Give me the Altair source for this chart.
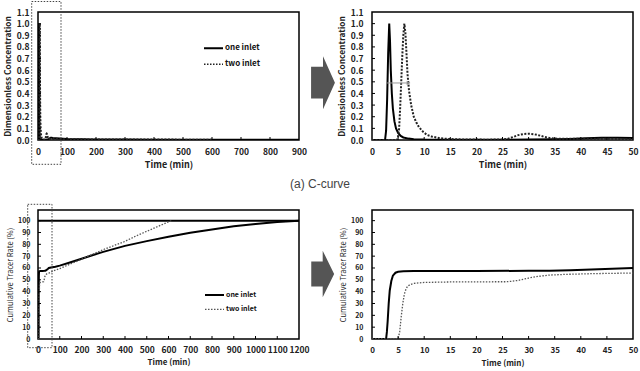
import altair as alt
import pandas as pd

FONT = "Noto Sans CJK KR"
SERIES = ["one inlet", "two inlet"]

# C-curve: dimensionless concentration against time (min)
c1_time = [0, 2.5, 2.7, 2.9, 3.1, 3.3, 3.45, 3.6, 3.8, 4.0, 4.3, 4.6, 5.0, 5.5, 6.0, 7.0, 8.0, 10, 15, 20,
           25, 30, 35, 38, 41, 44, 47, 50, 100, 200, 300, 400, 500, 600, 700, 800, 900]
c1_conc = [0, 0, 0.08, 0.35, 0.75, 1.0, 0.85, 0.6, 0.4, 0.27, 0.16, 0.1, 0.06, 0.035, 0.022, 0.012, 0.007, 0.004, 0.002, 0.002,
           0.003, 0.004, 0.006, 0.009, 0.014, 0.019, 0.02, 0.017, 0.008, 0.005, 0.004, 0.003, 0.003, 0.002, 0.002, 0.002, 0.002]
c2_time = [0, 4.8, 5.0, 5.2, 5.4, 5.6, 5.8, 6.0, 6.2, 6.4, 6.6, 6.8, 7.1, 7.5, 8.0, 8.5, 9.0, 9.8, 10.5, 11.4,
           13, 15, 18, 22, 25, 26, 27, 28, 29, 30, 31, 32, 33, 34, 35, 40, 45, 50, 100, 200, 300, 400, 500, 600]
c2_conc = [0, 0, 0.03, 0.1, 0.28, 0.5, 0.72, 0.9, 1.0, 0.92, 0.75, 0.57, 0.42, 0.3, 0.2, 0.15, 0.11, 0.07, 0.045, 0.03,
           0.015, 0.008, 0.004, 0.003, 0.004, 0.01, 0.025, 0.042, 0.051, 0.054, 0.05, 0.04, 0.027, 0.017, 0.012, 0.01, 0.01, 0.009,
           0.006, 0.005, 0.004, 0.004, 0.003, 0.002]

# F-curve: cumulative tracer rate (%) against time (min)
f1_time = [0, 2.7, 2.85, 3.0, 3.2, 3.4, 3.7, 4.0, 4.5, 5, 6, 8, 10, 20, 30, 34, 38, 42, 46, 50,
           60, 80, 100, 150, 200, 250, 300, 400, 500, 600, 700, 800, 900, 1000, 1100, 1200]
f1_rate = [0, 0, 6, 15, 30, 41, 49, 53.5, 56, 56.8, 57.2, 57.4, 57.5, 57.5, 57.6, 57.7, 58.1, 58.7, 59.3, 60,
           60.4, 61, 62, 64.8, 67.8, 70.8, 73.6, 78.7, 82.7, 86.4, 89.8, 92.6, 95.2, 97.2, 98.9, 100]
f2_time = [0, 5.0, 5.3, 5.6, 5.9, 6.2, 6.5, 6.8, 7.3, 8, 10, 15, 20, 26, 28, 30, 32, 34, 37, 42,
           46, 50, 60, 70, 100, 150, 200, 230, 250, 300, 350, 400, 450, 500, 550, 600, 615]
f2_rate = [0, 0, 6, 19, 30, 38, 42, 44.5, 46, 47, 47.8, 48.2, 48.3, 48.4, 49.5, 51.5, 53, 54, 54.6, 55.2,
           55.5, 55.7, 56.5, 57.5, 59.5, 63.5, 67.3, 70, 71.5, 75.5, 79, 82.5, 87, 91, 95, 99, 100]

full_time_c = [0, 100, 200, 300, 400, 500, 600, 700, 800, 900]
full_time_f = [0, 100, 200, 300, 400, 500, 600, 700, 800, 900, 1000, 1100, 1200]
zoom_time = [0, 5, 10, 15, 20, 25, 30, 35, 40, 45, 50]
conc_ticks = [0, 0.1, 0.2, 0.3, 0.4, 0.5, 0.6, 0.7, 0.8, 0.9, 1.0, 1.1]
rate_ticks = [0, 10, 20, 30, 40, 50, 60, 70, 80, 90, 100]
full_rate = [100]
spread_marker = {"time": [2.9], "time2": [7.0], "value": [0.49]}

c1 = pd.DataFrame({"time": c1_time, "value": c1_conc})
c2 = pd.DataFrame({"time": c2_time, "value": c2_conc})
f1 = pd.DataFrame({"time": f1_time, "value": f1_rate})
f2 = pd.DataFrame({"time": f2_time, "value": f2_rate})

W1, W2, H1, H2 = 261, 261, 128, 129
ONE = pd.DataFrame({"k": [0]})


def encodings(xdom, xvals, ydom, yvals, yfmt, ytitle, st):
    x = alt.X("time:Q", scale=alt.Scale(domain=xdom, nice=False, zero=False),
              axis=alt.Axis(values=xvals, tickCount=len(xvals), format="d", title="Time (min)",
                            ticks=False, domain=False, grid=False,
                            labelFont=FONT, labelFontWeight="bold", labelFontSize=st["xl"], labelColor="#222",
                            labelPadding=st["xlp"], labelFlush=False, labelOverlap=False,
                            titleFont=FONT, titleFontWeight="bold", titleFontSize=st["xt"], titleColor="#222",
                            titlePadding=st["xtp"]))
    y = alt.Y("value:Q", scale=alt.Scale(domain=ydom, nice=False, zero=False),
              axis=alt.Axis(values=yvals, tickCount=len(yvals), format=yfmt, title=ytitle,
                            ticks=False, domain=False, grid=False,
                            labelFont=FONT, labelFontWeight="bold", labelFontSize=st["yl"], labelColor="#222",
                            labelPadding=st["ylp"], labelFlush=False, labelOverlap=False,
                            titleFont=FONT, titleFontWeight=st["ytw"], titleFontSize=st["yt"], titleColor="#222",
                            titlePadding=st["ytp"]))
    return x, y


def inward_ticks(x, y, xvals, yvals, H):
    xt = alt.Chart(pd.DataFrame({"time": xvals[1:-1]})).mark_rule(color="black", strokeWidth=1).encode(
        x=x, y=alt.value(H), y2=alt.value(H - 3))
    yt = alt.Chart(pd.DataFrame({"value": yvals[1:-1] if yvals[-1] == conc_ticks[-1] else yvals[1:]})).mark_rule(
        color="black", strokeWidth=1).encode(y=y, x=alt.value(0), x2=alt.value(3))
    return [xt, yt]


def curves(x, y, d1, d2, dotted_color, dotted_width, dash):
    l1 = alt.Chart(d1).mark_line(color="black", strokeWidth=2, clip=True).encode(x=x, y=y, order="time:Q")
    l2 = alt.Chart(d2).mark_line(color=dotted_color, strokeWidth=dotted_width, strokeDash=dash, clip=True).encode(
        x=x, y=y, order="time:Q")
    return [l1, l2]


def legend(lx, ly, gap, dotted_color, dotted_width, dash, size):
    layers = []
    for i, name in enumerate(SERIES):
        yy = ly + i * gap
        rule = alt.Chart(ONE).mark_rule(
            color="black" if i == 0 else dotted_color, strokeWidth=2 if i == 0 else dotted_width,
            strokeDash=[1, 0] if i == 0 else dash).encode(x=alt.value(lx), x2=alt.value(lx + 19), y=alt.value(yy))
        txt = alt.Chart(ONE).mark_text(text=name, align="left", baseline="middle", font=FONT, fontWeight="bold",
                                       fontSize=size, color="#111").encode(x=alt.value(lx + 21), y=alt.value(yy))
        layers += [rule, txt]
    return layers


def zoom_box(x0, x1, y0, y1):
    return alt.Chart(ONE).mark_rect(fillOpacity=0, stroke="#444", strokeWidth=1, strokeDash=[1.5, 1.5]).encode(
        x=alt.value(x0), x2=alt.value(x1), y=alt.value(y0), y2=alt.value(y1))


def big_arrow(cx, cy, body, half_w, size):
    path = (f"M {-half_w} {-body} L 0 {-body} L 0 -1 L {half_w} 0 L 0 1 L 0 {body} L {-half_w} {body} Z")
    return alt.Chart(ONE).mark_point(shape=path, filled=True, fill="#555", fillOpacity=1, strokeWidth=0,
                                     size=size).encode(x=alt.value(cx), y=alt.value(cy))


top_st = dict(xl=8.5, xlp=7, xt=9, xtp=5, yl=8.5, ylp=9, yt=8.4, ytw="bold", ytp=4)
bl_st = dict(xl=8.5, xlp=6, xt=8, xtp=5, yl=7, ylp=8, yt=7.5, ytw="normal", ytp=3)
br_st = dict(xl=8, xlp=7, xt=8, xtp=5, yl=7, ylp=9, yt=7.5, ytw="normal", ytp=3)

# --- top left: C-curve, full time range
x, y = encodings([0, 900], full_time_c, [0, 1.1], conc_ticks, ".1f", "Dimensionless Concentration", top_st)
anchor = alt.Chart(ONE).mark_rect(opacity=0).encode(
    x=alt.value(-37), x2=alt.value(-36), y=alt.value(-11), y2=alt.value(-10))
caption = alt.Chart(ONE).mark_text(text="(a)  C-curve", font="Liberation Sans", fontSize=12, color="#444",
                                   align="center", baseline="middle").encode(x=alt.value(282), y=alt.value(172))
tl = alt.layer(
    anchor,
    *curves(x, y, c1, c2, "#222", 2, [2, 1.5]),
    *inward_ticks(x, y, full_time_c, conc_ticks, H1),
    *legend(166, 36.3, 16, "#222", 1.5, [1.5, 1.5], 8),
    zoom_box(-6.3, 23, -10.5, 152.3),
    big_arrow(285, 70.7, 0.6, 0.45, 2809),
    caption,
).properties(width=W1, height=H1)

# --- top right: C-curve, first 50 minutes
x, y = encodings([0, 50], zoom_time, [0, 1.1], conc_ticks, ".1f", "Dimensionless Concentration", top_st)
spread = alt.Chart(pd.DataFrame(spread_marker)).mark_rule(color="#999", strokeWidth=1).encode(
    x=x, x2="time2:Q", y=y)
spread_head = alt.Chart(pd.DataFrame(spread_marker)).mark_point(
    shape="triangle-right", filled=True, color="#888", size=18, opacity=1).encode(x="time2:Q", y=y)
tr = alt.layer(
    *curves(x, y, c1[c1.time <= 50], c2[c2.time <= 50], "#222", 2, [2, 1.5]),
    *inward_ticks(x, y, zoom_time, conc_ticks, H1),
    spread, spread_head,
).properties(width=W2, height=H1)

# --- bottom left: F-curve, full time range
x, y = encodings([0, 1200], full_time_f, [0, 109], rate_ticks, "d", "Cumulative Tracer Rate (%)", bl_st)
full_line = alt.Chart(pd.DataFrame({"value": full_rate})).mark_rule(color="black", strokeWidth=2).encode(
    y=y, x=alt.value(0), x2=alt.value(W1))
bl = alt.layer(
    full_line,
    *curves(x, y, f1, f2, "#555", 1.3, [1.5, 1.5]),
    *inward_ticks(x, y, full_time_f, rate_ticks, H2),
    *legend(167, 85, 14.3, "#555", 1.3, [1.5, 1.5], 7),
    zoom_box(-10.3, 14, -5.7, 137.7),
    big_arrow(284.7, 64, 0.535, 0.49, 2181),
).properties(width=W1, height=H2)

# --- bottom right: F-curve, first 50 minutes
x, y = encodings([0, 50], zoom_time, [0, 109], rate_ticks, "d", "Cumulative Tracer Rate (%)", br_st)
br = alt.layer(
    *curves(x, y, f1[f1.time <= 50], f2[f2.time <= 50], "#555", 1.3, [1.5, 1.5]),
    *inward_ticks(x, y, zoom_time, rate_ticks, H2),
).properties(width=W2, height=H2)

chart = alt.concat(
    tl, tr, bl, br, columns=2, spacing={"row": 70, "column": 73}, bounds="flush"
).properties(
    padding=0, background="white"
).configure_view(stroke="black", strokeWidth=1.5)

chart.save("out.html", embed_options={"renderer": "svg", "actions": False})
